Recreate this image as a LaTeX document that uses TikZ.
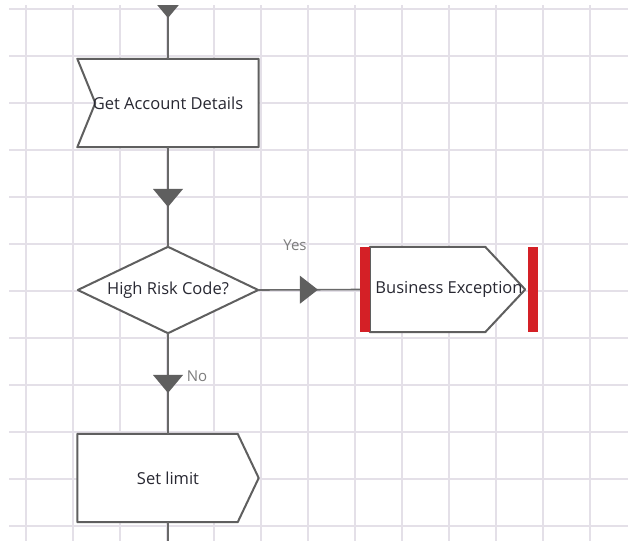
\documentclass[tikz,border=0pt]{standalone}
\usepackage{fontspec}
\setmainfont{Open Sans}
\usetikzlibrary{calc}
\pgfdeclarelayer{background}
\pgfsetlayers{background,main}
\definecolor{gridc}{RGB}{228,224,232}
\definecolor{linec}{RGB}{105,105,105}
\definecolor{shapec}{RGB}{95,95,95}
\definecolor{redbar}{RGB}{212,32,38}
\definecolor{txtc}{RGB}{40,40,50}
\definecolor{lblc}{RGB}{125,125,125}
\begin{document}
\begin{tikzpicture}[x=1pt,y=-1pt,
  box/.style={rectangle,inner sep=0pt,text=txtc,font=\fontsize{16.5}{19}\selectfont},
  outline/.style={draw=shapec,line width=2pt,line join=round,fill=white},
  conn/.style={draw=linec,line width=1.6pt},
  tri/.style={fill=shapec},
  lbl/.style={text=lblc,font=\fontsize{15}{17}\selectfont,inner sep=0pt}]
\useasboundingbox (0,0) rectangle (628,541);
\begin{pgfonlayer}{background}
\fill[white] (0,0) rectangle (628,541);
\foreach \gx in {26,73,...,590} \draw[gridc,line width=1.8pt] (\gx,5) -- (\gx,541);
\foreach \gy in {8.7,55.7,...,526.7} \draw[gridc,line width=1.8pt] (9,\gy) -- (628,\gy);
\end{pgfonlayer}

\node[box,minimum width=181pt,minimum height=88pt] (gad) at (168,103) {Get Account Details};
\node[box,minimum width=180pt,minimum height=86pt] (risk) at (168,290) {High Risk Code?};
\node[box,minimum width=178pt,minimum height=85pt] (bex) at (449,289.5) {Business Exception};
\node[box,minimum width=181pt,minimum height=88pt] (setl) at (168,478) {Set limit};
\node[lbl] (yes) at (295,245) {Yes};
\node[lbl] (no) at (197,376) {No};

\begin{pgfonlayer}{background}
\filldraw[outline] (gad.north west) -- (gad.north east) -- (gad.south east) -- (gad.south west) -- ($(gad.west)+(18,0)$) -- cycle;
\filldraw[outline] (risk.north) -- (risk.east) -- (risk.south) -- (risk.west) -- cycle;
\filldraw[outline] ($(bex.north west)+(10,0)$) -- ($(bex.north east)+(-53,0)$) -- ($(bex.east)+(-13,0)$) -- ($(bex.south east)+(-53,0)$) -- ($(bex.south west)+(10,0)$) -- cycle;
\fill[redbar] (bex.north west) rectangle ($(bex.south west)+(10,0)$);
\fill[redbar] ($(bex.north east)+(-10,0)$) rectangle (bex.south east);
\filldraw[outline] (setl.north west) -- ($(setl.north east)+(-21,0)$) -- (setl.east) -- ($(setl.south east)+(-21,0)$) -- (setl.south west) -- cycle;
\end{pgfonlayer}

\coordinate (topend) at (168,5);
\coordinate (botend) at (168,541);
\draw[conn] (topend) -- (gad.north);
\draw[conn] (gad.south) -- (risk.north);
\draw[conn] (risk.east) -- (bex.west);
\draw[conn] (risk.south) -- (setl.north);
\draw[conn] (setl.south) -- (botend);

\fill[tri] ($(topend)+(0,13)$) -- ++(-10.8,-13) -- ++(21.6,0) -- cycle;
\fill[tri] ($(gad.south)!0.6!(risk.north)$) -- ++(-15,-18) -- ++(30,0) -- cycle;
\fill[tri] ($(risk.east)!0.588!(bex.west)$) -- ++(-18,-14) -- ++(0,28) -- cycle;
\fill[tri] ($(risk.south)!0.594!(setl.north)$) -- ++(-15,-18) -- ++(30,0) -- cycle;
\end{tikzpicture}
\end{document}
